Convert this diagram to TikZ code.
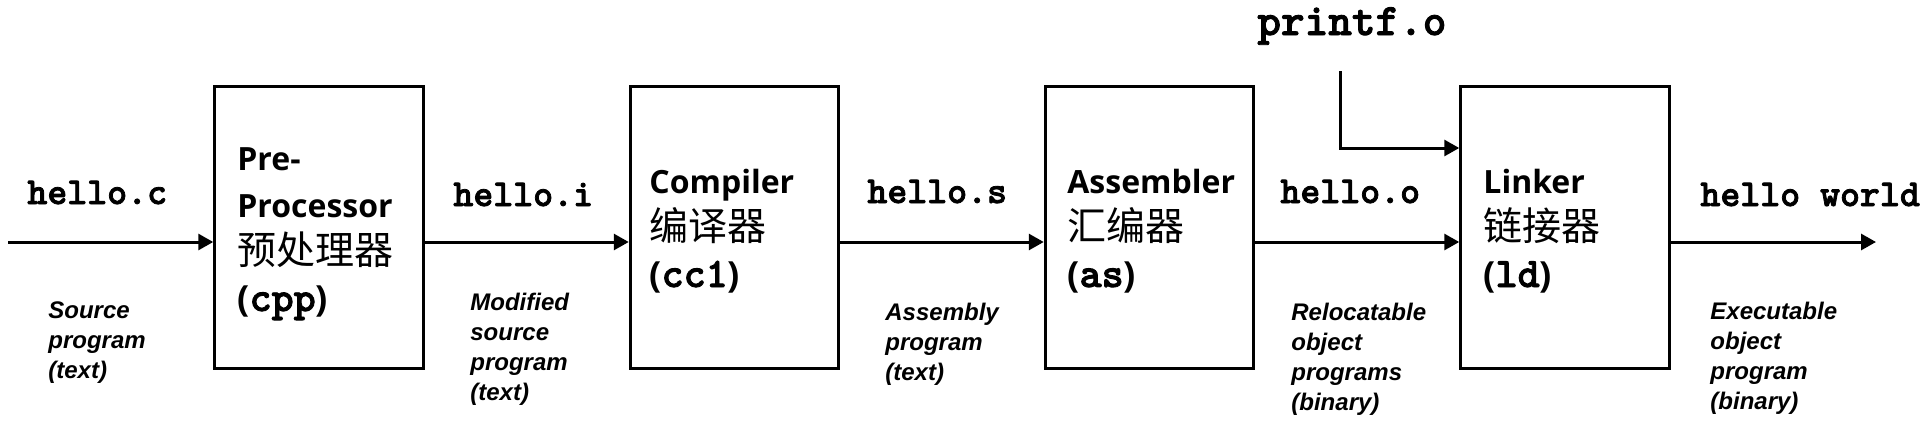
\documentclass[tikz,border=0pt]{standalone}
\usepackage{fontspec}
\setmainfont{Open Sans}
\newfontfamily\cjkf{Noto Sans CJK SC}
\newfontfamily\monof{lmmonolt10-bold.otf}[FakeBold=2]
\newfontfamily\labf{Liberation Sans}
\usetikzlibrary{arrows.meta}
\newcommand\zhtxt[1]{\smash{\cjkf\mdseries\fontsize{19.5}{23.5}\selectfont #1}}
\newcommand\mbtxt[1]{{\fontsize{18}{23.5}\selectfont(\monof\fontsize{21}{23.5}\selectfont #1\fontsize{18}{23.5}\selectfont\rmfamily\bfseries)}}
\newcommand\lines[1]{\begin{tabular}[t]{@{}l@{}}#1\end{tabular}}
\begin{document}
\begin{tikzpicture}[x=0.5pt,y=-0.5pt,
  stage/.style={draw, line width=1.5pt, minimum width=104.25pt, minimum height=140.75pt, inner sep=0pt},
  flow/.style={line width=1.5pt, -{Triangle[length=7.5pt,width=8pt]}},
  fname/.style={font=\monof\fontsize{19}{22}\selectfont, anchor=base west, inner sep=0pt},
  desc/.style={font=\labf\bfseries\itshape\fontsize{12}{15}\selectfont, anchor=base west, inner sep=0pt},
  intext/.style={font=\bfseries\fontsize{16}{23.5}\selectfont, anchor=base west, inner sep=0pt},
]
\useasboundingbox (0,0) rectangle (1927,434);

% stages
\node[stage] (pp) at (319,227.5) {};
\node[stage] (cc) at (734.5,227.5) {};
\node[stage] (as) at (1149.5,227.5) {};
\node[stage] (ld) at (1565,227.5) {};

% stage texts
\node[intext] (t1) at (237,170) {\lines{Pre-\\Processor\\\zhtxt{预处理器}\\\mbtxt{cpp}}};
\node[intext] (t2) at (649,193) {\lines{Compiler\\\zhtxt{编译器}\\\mbtxt{cc1}}};
\node[intext] (t3) at (1067,193) {\lines{Assembler\\\zhtxt{汇编器}\\\mbtxt{as}}};
\node[intext] (t4) at (1483,193) {\lines{Linker\\\zhtxt{链接器}\\\mbtxt{ld}}};

% connectors
\coordinate (src) at (8,242);
\coordinate (out) at (1876,242);
\coordinate (pfin) at (1340,71);
\coordinate (pfk) at (1340,148);
\draw[flow] (src) -- (pp.west |- src);
\draw[flow] (pp.east |- src) -- (cc.west |- src);
\draw[flow] (cc.east |- src) -- (as.west |- src);
\draw[flow] (as.east |- src) -- (ld.west |- src);
\draw[flow] (ld.east |- src) -- (out);
\draw[flow] (pfin) -- (pfk) -- (ld.west |- pfk);

% file names
\node[fname] (fc) at (27,204) {hello.c};
\node[fname] (fi) at (453,206) {hello.i};
\node[fname] (fs) at (867,203) {hello.s};
\node[fname] (fo) at (1280,203) {hello.o};
\node[fname] (fw) at (1700,206) {hello world};
\node[fname, font=\monof\fontsize{22.5}{26}\selectfont] (fp) at (1257,35) {printf.o};

% descriptions
\node[desc] (d1) at (48,318) {\lines{Source\\program\\(text)}};
\node[desc] (d2) at (470,310) {\lines{Modified\\source\\program\\(text)}};
\node[desc] (d3) at (885,320) {\lines{Assembly\\program\\(text)}};
\node[desc] (d4) at (1291,320) {\lines{Relocatable\\object\\programs\\(binary)}};
\node[desc] (d5) at (1710,319) {\lines{Executable\\object\\program\\(binary)}};
\end{tikzpicture}
\end{document}
